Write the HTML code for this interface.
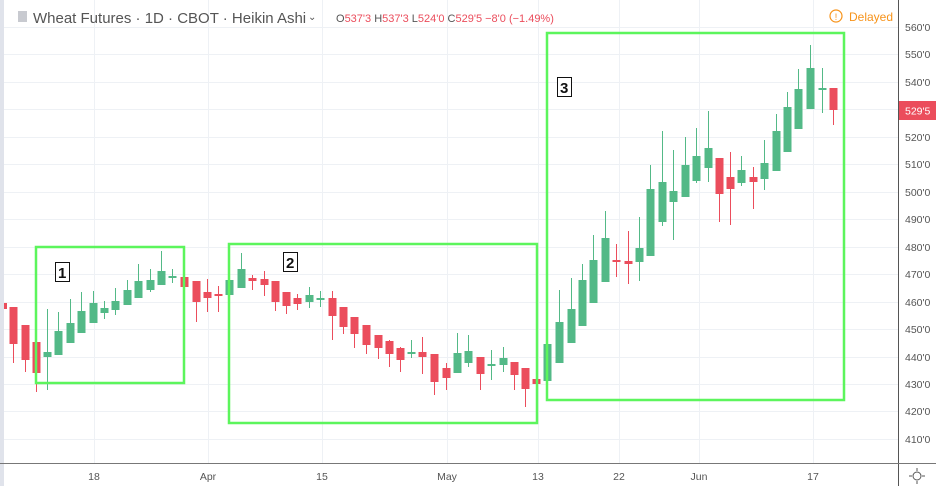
<!DOCTYPE html>
<html><head><meta charset="utf-8"><style>
html,body{margin:0;padding:0;background:#fff;}
svg{display:block;font-family:"Liberation Sans",sans-serif;}
</style></head><body>
<svg width="936" height="486" viewBox="0 0 936 486" xmlns="http://www.w3.org/2000/svg">
<rect x="0" y="0" width="936" height="486" fill="#fff"/>
<rect x="0" y="0" width="4" height="486" fill="#e0e3eb"/>
<g stroke="#eef1f5" stroke-width="1">
<line x1="4" y1="27.5" x2="898" y2="27.5"/><line x1="4" y1="54.5" x2="898" y2="54.5"/><line x1="4" y1="82.5" x2="898" y2="82.5"/><line x1="4" y1="109.5" x2="898" y2="109.5"/><line x1="4" y1="137.5" x2="898" y2="137.5"/><line x1="4" y1="164.5" x2="898" y2="164.5"/><line x1="4" y1="192.5" x2="898" y2="192.5"/><line x1="4" y1="219.5" x2="898" y2="219.5"/><line x1="4" y1="247.5" x2="898" y2="247.5"/><line x1="4" y1="274.5" x2="898" y2="274.5"/><line x1="4" y1="302.5" x2="898" y2="302.5"/><line x1="4" y1="329.5" x2="898" y2="329.5"/><line x1="4" y1="357.5" x2="898" y2="357.5"/><line x1="4" y1="384.5" x2="898" y2="384.5"/><line x1="4" y1="411.5" x2="898" y2="411.5"/><line x1="4" y1="439.5" x2="898" y2="439.5"/>
<line x1="94.5" y1="0" x2="94.5" y2="463"/><line x1="208.5" y1="0" x2="208.5" y2="463"/><line x1="322.5" y1="0" x2="322.5" y2="463"/><line x1="447.5" y1="0" x2="447.5" y2="463"/><line x1="538.5" y1="0" x2="538.5" y2="463"/><line x1="619.5" y1="0" x2="619.5" y2="463"/><line x1="699.5" y1="0" x2="699.5" y2="463"/><line x1="813.5" y1="0" x2="813.5" y2="463"/>
</g>
<g id="c"></g>
<g fill="none" stroke="#5cf55c" stroke-width="2.5">
<rect x="36" y="247" width="148" height="136"/>
<rect x="229" y="244" width="308" height="179"/>
<rect x="547" y="33" width="297" height="367"/>
</g>
<g font-size="15" font-weight="bold" fill="#111">
<rect x="55.5" y="262.5" width="14" height="19" fill="#fff" stroke="#111"/><text x="58" y="278">1</text>
<rect x="283.5" y="252.5" width="14" height="19" fill="#fff" stroke="#111"/><text x="286" y="268">2</text>
<rect x="557.5" y="77.5" width="14" height="19" fill="#fff" stroke="#111"/><text x="560" y="93">3</text>
</g>
<line x1="898.5" y1="0" x2="898.5" y2="486" stroke="#555" stroke-width="1"/>
<line x1="0" y1="463.5" x2="936" y2="463.5" stroke="#777" stroke-width="1"/>
<g font-size="10.5" fill="#555">
<text x="905" y="31">560'0</text><text x="905" y="58">550'0</text><text x="905" y="86">540'0</text><text x="905" y="141">520'0</text><text x="905" y="168">510'0</text><text x="905" y="196">500'0</text><text x="905" y="223">490'0</text><text x="905" y="251">480'0</text><text x="905" y="278">470'0</text><text x="905" y="306">460'0</text><text x="905" y="333">450'0</text><text x="905" y="361">440'0</text><text x="905" y="388">430'0</text><text x="905" y="415">420'0</text><text x="905" y="443">410'0</text>
</g>
<rect x="899" y="101" width="37" height="19" fill="#eb4d5c"/>
<text x="905" y="114.5" font-size="10.5" fill="#fff">529'5</text>
<g font-size="10.5" fill="#555" text-anchor="middle">
<text x="94" y="480">18</text><text x="208" y="480">Apr</text><text x="322" y="480">15</text><text x="447" y="480">May</text><text x="538" y="480">13</text><text x="619" y="480">22</text><text x="699" y="480">Jun</text><text x="813" y="480">17</text>
</g>
<g stroke="#555" fill="none"><circle cx="917" cy="476" r="4"/><line x1="917" y1="468" x2="917" y2="471"/><line x1="917" y1="481" x2="917" y2="484"/><line x1="909" y1="476" x2="912" y2="476"/><line x1="922" y1="476" x2="925" y2="476"/></g>
<rect x="18" y="11" width="9" height="11" fill="#c8cad0"/>
<text x="33" y="23" font-size="15" fill="#555">Wheat Futures · 1D · CBOT · Heikin Ashi</text>
<text x="308" y="20" font-size="10" fill="#555">⌄</text>
<text x="336" y="22" font-size="11" fill="#555">O<tspan fill="#eb4d5c">537'3</tspan>  H<tspan fill="#eb4d5c">537'3</tspan>  L<tspan fill="#eb4d5c">524'0</tspan>  C<tspan fill="#eb4d5c">529'5</tspan>  <tspan fill="#eb4d5c">−8'0 (−1.49%)</tspan></text>
<circle cx="836" cy="16" r="6" fill="none" stroke="#f7931a" stroke-width="1.2"/>
<text x="836" y="20" font-size="9" fill="#f7931a" text-anchor="middle">!</text>
<text x="849" y="21" font-size="12" fill="#f7931a">Delayed</text>
</svg>
<script>
var d=[
[5,303,309,303,309,'r'],[13,307,344,307,363,'r'],[25,325,360,325,372,'r'],[36,342,373,341,392,'r'],
[47,352,357,309,390,'g'],[58,331,355,312,355,'g'],[70,323,343,299,343,'g'],[81,311,333,292,333,'g'],
[93,303,323,291,323,'g'],[104,308,313,301,319,'g'],[115,301,310,288,315,'g'],[127,290,305,280,305,'g'],
[138,281,298,264,298,'g'],[150,280,290,269,292,'g'],[161,271,285,251,285,'g'],[172,276,278,269,283,'g'],
[184,277,287,277,302,'r'],[196,281,302,281,322,'r'],[207,292,298,279,312,'r'],[218,294,296,286,312,'r'],
[229,280,295,280,295,'g'],[241,269,288,253,288,'g'],[252,278,281,275,290,'r'],[264,279,285,271,296,'r'],
[275,281,302,281,311,'r'],[286,292,306,292,314,'r'],[297,298,304,294,310,'r'],[309,295,302,287,308,'g'],
[320,298,299,291,307,'g'],[332,298,316,291,340,'r'],[343,307,327,307,334,'r'],[354,317,334,317,348,'r'],
[366,325,345,325,354,'r'],[378,335,348,335,359,'r'],[389,341,354,340,367,'r'],[400,348,360,347,372,'r'],
[411,352,354,340,358,'g'],[422,352,357,337,374,'r'],[434,354,382,354,395,'r'],[446,368,378,363,390,'r'],
[457,353,373,333,373,'g'],[468,351,363,335,367,'g'],[480,357,374,357,390,'r'],[491,364,366,350,380,'g'],
[503,358,365,347,372,'g'],[514,362,375,362,390,'r'],[525,368,389,368,407,'r'],[536,379,384,354,416,'r'],
[547,344,381,327,381,'g'],[559,322,363,290,363,'g'],[571,309,343,278,343,'g'],[582,280,326,264,326,'g'],
[593,260,303,235,303,'g'],[605,238,282,211,282,'g'],[616,260,262,244,277,'r'],[628,261,264,231,284,'r'],
[639,248,262,217,281,'g'],[650,189,256,165,256,'g'],[662,182,222,131,226,'g'],[673,191,202,150,240,'g'],
[685,165,197,137,197,'g'],[696,156,181,128,183,'g'],[708,148,168,111,182,'g'],[719,158,194,158,222,'r'],
[730,177,189,152,225,'r'],[741,170,183,156,186,'g'],[753,177,182,167,209,'r'],[764,163,179,140,190,'g'],
[776,131,171,114,171,'g'],[787,107,152,92,152,'g'],[798,89,129,69,129,'g'],[810,68,109,45,109,'g'],
[822,88,89,68,113,'g'],[833,88,110,88,125,'r']];
var s='',ns='http://www.w3.org/2000/svg';
d.forEach(function(c){var col=c[5]=='g'?'#53b987':'#eb4d5c';var w=c[0]==5?3:8;
s+='<line x1="'+(c[0]+.5)+'" y1="'+c[3]+'" x2="'+(c[0]+.5)+'" y2="'+c[4]+'" stroke="'+col+'" stroke-width="1"/>';
s+='<rect x="'+(c[0]-w/2+.5)+'" y="'+c[1]+'" width="'+w+'" height="'+Math.max(2,c[2]-c[1])+'" fill="'+col+'"/>';});
document.getElementById('c').innerHTML=s;
</script>
</body></html>
